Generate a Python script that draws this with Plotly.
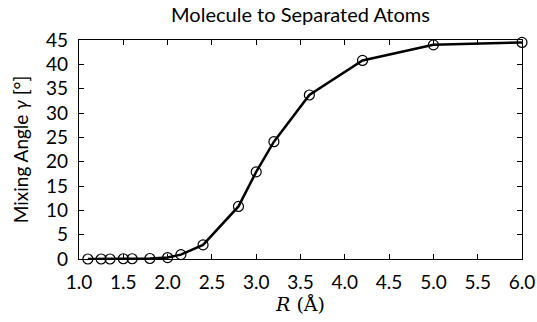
import plotly.graph_objects as go

R = [1.1, 1.25, 1.35, 1.5, 1.6, 1.8, 2.0, 2.15, 2.4, 2.8, 3.0, 3.2, 3.6, 4.2, 5.0, 6.0]
gamma = [0.0, 0.0, 0.0, 0.05, 0.05, 0.1, 0.3, 0.9, 2.9, 10.8, 17.9, 24.1, 33.7, 40.8, 44.0, 44.5]
xticks = [1.0, 1.5, 2.0, 2.5, 3.0, 3.5, 4.0, 4.5, 5.0, 5.5, 6.0]
yticks = [0, 5, 10, 15, 20, 25, 30, 35, 40, 45]

FONT = "Lato, 'Open Sans', 'DejaVu Sans', sans-serif"
SERIF = "'DejaVu Serif', 'Liberation Serif', serif"

fig = go.Figure()
fig.add_trace(go.Scatter(
    x=R, y=gamma, mode="lines+markers",
    line=dict(color="black", width=2.5),
    marker=dict(symbol="circle-open", size=10, color="black", line=dict(width=1.2)),
    showlegend=False, cliponaxis=False,
))

axis_common = dict(
    showgrid=False, zeroline=False, showline=True, linecolor="black", linewidth=1.2,
    mirror="ticks", ticks="inside", ticklen=5, tickcolor="black", tickwidth=1,
    tickfont=dict(family=FONT, size=19, color="black"), automargin=False,
)

fig.update_layout(
    width=537, height=322,
    margin=dict(l=79, r=15, t=40, b=63),
    paper_bgcolor="white", plot_bgcolor="white",
    title=dict(text="Molecule to Separated Atoms", x=(79 + 522) / 2 / 537, xanchor="center",
               y=1, yref="container", yanchor="top", pad=dict(t=8),
               font=dict(family=FONT, size=20, color="black")),
    xaxis=dict(range=[1.0, 6.0], tickvals=xticks, ticktext=[f"{v:.1f}" for v in xticks],
               ticklabelstandoff=6,
               title=dict(text=f"<i>R</i><span style='font-family:{SERIF}'> (Å)</span>",
                          font=dict(family=SERIF, size=19, color="black"), standoff=2),
               **axis_common),
    yaxis=dict(range=[0, 45], tickvals=yticks, ticktext=[str(v) for v in yticks],
               ticklabelstandoff=6,
               title=dict(text=f"Mixing Angle <span style='font-family:{SERIF}'><i>γ</i> [°]</span>",
                          font=dict(family=FONT, size=19, color="black"), standoff=12),
               **axis_common),
)

fig.write_html("out.html")
